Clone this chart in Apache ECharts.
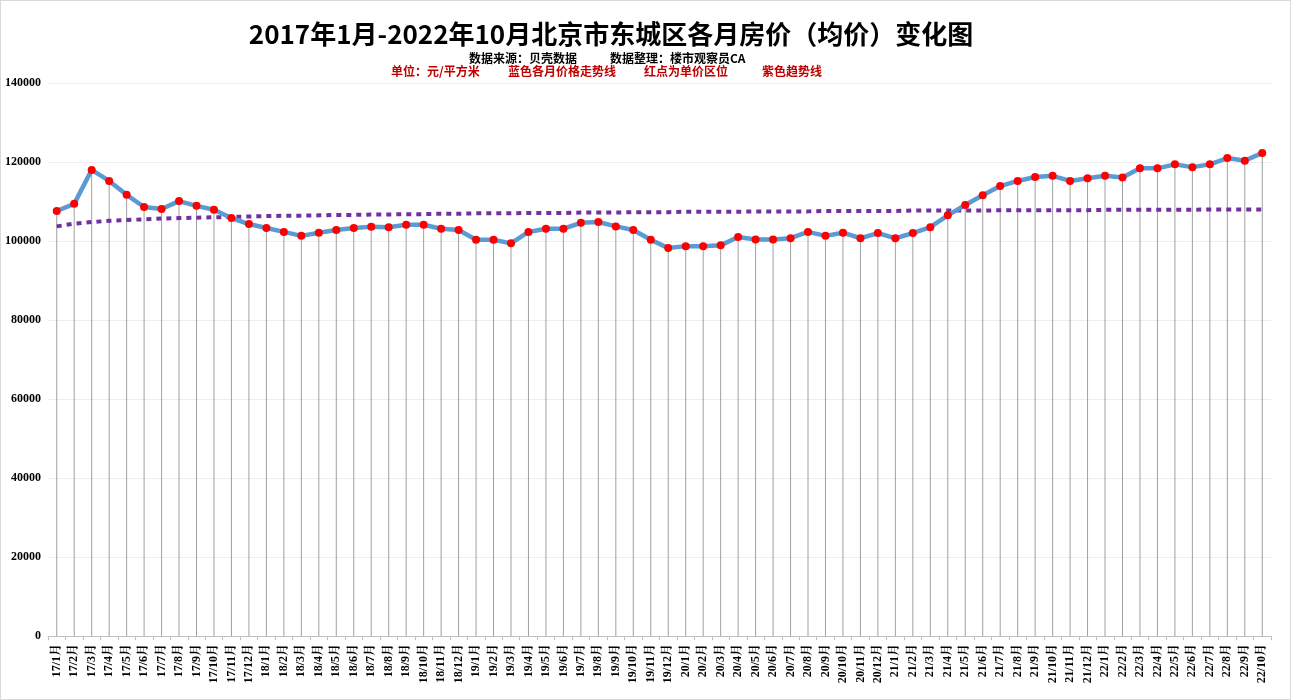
<!DOCTYPE html>
<html>
<head>
<meta charset="utf-8">
<title>东城区各月房价</title>
<script src="https://cdn.jsdelivr.net/npm/echarts@6/dist/echarts.min.js"></script>
<style>
    html, body {margin: 0; padding: 0; background: #fff;}
    #main {width: 1289px; height: 698px; border: 1px solid #d9d9d9;}
</style>
</head>
<body>
<div id="main"></div>
<script>
// 月份
var months = [
    '17/1月', '17/2月', '17/3月', '17/4月', '17/5月', '17/6月', '17/7月', '17/8月', '17/9月', '17/10月', '17/11月', '17/12月',
    '18/1月', '18/2月', '18/3月', '18/4月', '18/5月', '18/6月', '18/7月', '18/8月', '18/9月', '18/10月', '18/11月', '18/12月',
    '19/1月', '19/2月', '19/3月', '19/4月', '19/5月', '19/6月', '19/7月', '19/8月', '19/9月', '19/10月', '19/11月', '19/12月',
    '20/1月', '20/2月', '20/3月', '20/4月', '20/5月', '20/6月', '20/7月', '20/8月', '20/9月', '20/10月', '20/11月', '20/12月',
    '21/1月', '21/2月', '21/3月', '21/4月', '21/5月', '21/6月', '21/7月', '21/8月', '21/9月', '21/10月', '21/11月', '21/12月',
    '22/1月', '22/2月', '22/3月', '22/4月', '22/5月', '22/6月', '22/7月', '22/8月', '22/9月', '22/10月'
];
// 均价（元/平方米）
var prices = [
    107600, 109400, 118000, 115200, 111700, 108600, 108100, 110100, 108900, 107900, 105800, 104300,
    103300, 102300, 101300, 102100, 102800, 103300, 103600, 103500, 104100, 104100, 103100, 102800,
    100300, 100300, 99400, 102300, 103100, 103100, 104600, 104800, 103700, 102800, 100300, 98200,
    98700, 98700, 98900, 101000, 100400, 100400, 100700, 102300, 101300, 102100, 100700, 102000,
    100700, 102000, 103500, 106500, 109100, 111600, 113900, 115200, 116200, 116500, 115200, 115900,
    116500, 116100, 118400, 118400, 119400, 118700, 119400, 121000, 120300, 122300
];
// 紫色趋势线
var trend = [
    103700, 104400, 104800, 105100, 105300, 105500, 105700, 105800, 105900, 106000, 106100, 106200,
    106300, 106400, 106400, 106500, 106600, 106600, 106700, 106700, 106800, 106800, 106900, 106900,
    107000, 107000, 107000, 107100, 107100, 107100, 107200, 107200, 107200, 107300, 107300, 107300,
    107400, 107400, 107400, 107400, 107500, 107500, 107500, 107500, 107600, 107600, 107600, 107600,
    107600, 107700, 107700, 107700, 107700, 107700, 107800, 107800, 107800, 107800, 107800, 107800,
    107900, 107900, 107900, 107900, 107900, 107900, 108000, 108000, 108000, 108000
];

var serif = '"Liberation Serif", "Noto Serif CJK SC", "Noto Sans CJK SC", serif';
var cjk = 'Noto Sans CJK SC';
var chart = echarts.init(document.getElementById('main'));
var option = {
    animation: false,
    backgroundColor: '#fff',
    title: [{
        text: '2017年1月-2022年10月北京市东城区各月房价（均价）变化图',
        left: 605, top: 15, textAlign: 'center',
        textStyle: {fontFamily: cjk, fontSize: 26, fontWeight: 'bold', color: '#000'}
    }, {
        text: '数据来源：贝壳数据', left: 463, top: 46,
        textStyle: {fontFamily: cjk, fontSize: 12, fontWeight: 'bold', color: '#000'}
    }, {
        text: '数据整理：楼市观察员CA', left: 604, top: 46,
        textStyle: {fontFamily: cjk, fontSize: 12, fontWeight: 'bold', color: '#000'}
    }, {
        text: '单位：元/平方米', left: 385, top: 59,
        textStyle: {fontFamily: cjk, fontSize: 12, fontWeight: 'bold', color: '#c00000'}
    }, {
        text: '蓝色各月价格走势线', left: 502, top: 59,
        textStyle: {fontFamily: cjk, fontSize: 12, fontWeight: 'bold', color: '#c00000'}
    }, {
        text: '红点为单价区位', left: 638, top: 59,
        textStyle: {fontFamily: cjk, fontSize: 12, fontWeight: 'bold', color: '#c00000'}
    }, {
        text: '紫色趋势线', left: 756, top: 59,
        textStyle: {fontFamily: cjk, fontSize: 12, fontWeight: 'bold', color: '#c00000'}
    }],
    grid: {left: 47, right: 19, top: 82, bottom: 63},
    xAxis: {
        type: 'category',
        data: months,
        boundaryGap: true,
        axisLine: {lineStyle: {color: '#bfbfbf'}},
        axisTick: {show: true, length: 4, lineStyle: {color: '#bfbfbf'}},
        axisLabel: {
            interval: 0, rotate: 90, margin: 8,
            fontFamily: serif, fontSize: 12, fontWeight: 'bold', color: '#000'
        }
    },
    yAxis: {
        type: 'value',
        min: 0, max: 140000, interval: 20000,
        axisLine: {show: false},
        axisTick: {show: false},
        axisLabel: {
            margin: 7, fontFamily: serif, fontSize: 12, fontWeight: 'bold', color: '#000',
            formatter: function (v) {
                return String(v);
            }
        },
        splitLine: {lineStyle: {color: '#eeeeee'}}
    },
    series: [{
        // 垂直线
        name: 'drop',
        type: 'bar',
        data: prices,
        barWidth: 1,
        itemStyle: {color: '#a0a0a0'},
        silent: true,
        z: 1
    }, {
        name: '趋势线',
        type: 'line',
        data: trend,
        showSymbol: false,
        lineStyle: {color: '#7030a0', width: 4, type: [5, 5], cap: 'butt'},
        z: 2
    }, {
        name: '均价',
        type: 'line',
        data: prices,
        symbol: 'circle',
        symbolSize: 8,
        itemStyle: {color: '#ff0000', borderWidth: 0},
        lineStyle: {color: '#5b9bd5', width: 4.5},
        z: 3
    }]
};
chart.setOption(option);
</script>
</body>
</html>
